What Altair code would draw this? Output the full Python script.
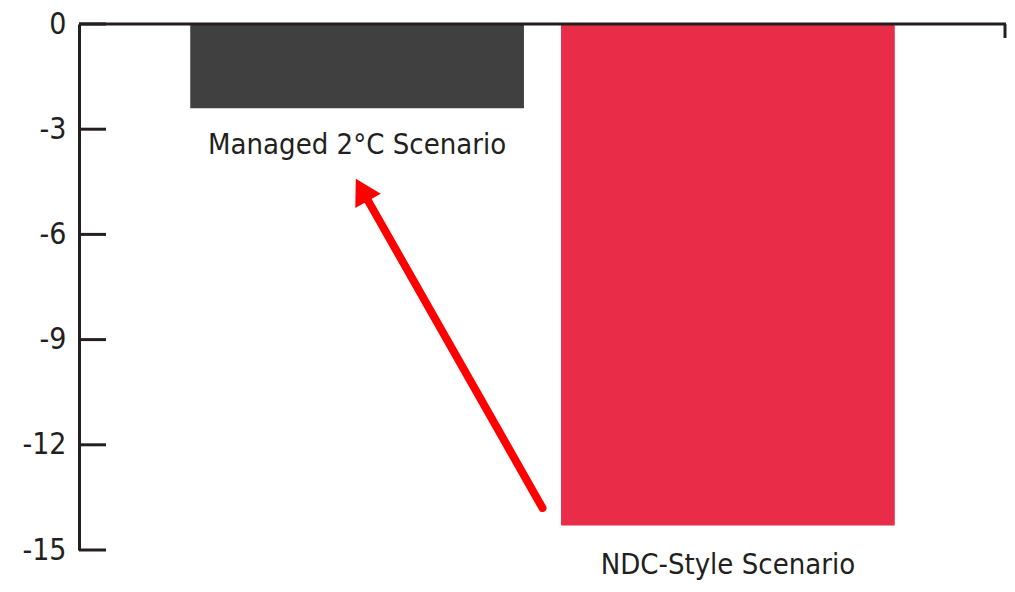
import altair as alt
import pandas as pd

# Data
categories = ["Managed 2°C Scenario", "NDC-Style Scenario"]
values = [-2.4, -14.3]
bar_colors = ["#404040", "#E92C48"]
label_y = [-3.45, -15.42]
tick_values = [0, -3, -6, -9, -12, -15]

# arrow annotation (x in units of band steps across plot, y in data units)
arrow_x = [1.25, 0.763]
arrow_y = [-13.8, -4.73]
head_x = [0.763]
head_y = [-4.73]

W, H = 927, 526
INK = "#231F20"
FONT = "DejaVu Sans Condensed"

bars_df = pd.DataFrame({"cat": categories, "val": values, "color": bar_colors, "ly": label_y})
ticks_df = pd.DataFrame({"t": tick_values})
arrow_df = pd.DataFrame({"ax": arrow_x, "ay": arrow_y, "o": [0, 1]})
head_df = pd.DataFrame({"hx": head_x, "hy": head_y})

yscale = alt.Scale(domain=[-15, 0], nice=False, zero=False)
xband = alt.Scale(domain=categories, paddingInner=0.1, paddingOuter=0.3)

bars = alt.Chart(bars_df).mark_bar().encode(
    x=alt.X("cat:N", scale=xband, axis=None, sort=categories),
    y=alt.Y("val:Q", scale=yscale,
            axis=alt.Axis(values=tick_values, ticks=False, grid=False, domain=True,
                          domainColor=INK, domainWidth=3, labelFont=FONT, labelFontSize=30,
                          labelColor=INK, labelPadding=13, title=None,
                          labelExpr="'' + datum.value")),
    y2=alt.datum(0),
    color=alt.Color("color:N", scale=None),
)

labels = alt.Chart(bars_df).mark_text(font=FONT, fontSize=29, color=INK, baseline="middle").encode(
    x=alt.X("cat:N", scale=xband, axis=None, sort=categories),
    y=alt.Y("ly:Q", scale=yscale),
    text="cat:N",
)

tick_rules = alt.Chart(ticks_df).mark_rule(color=INK, strokeWidth=3).encode(
    y=alt.Y("t:Q", scale=yscale),
    x=alt.value(0),
    x2=alt.value(27),
)

top_line = alt.Chart(pd.DataFrame({"t": [0]})).mark_rule(color=INK, strokeWidth=3).encode(
    y=alt.Y("t:Q", scale=yscale),
    x=alt.value(0),
    x2=alt.value(W),
)

right_tick = alt.Chart(pd.DataFrame({"t": [0]})).mark_rule(color=INK, strokeWidth=3).encode(
    y=alt.Y("t:Q", scale=yscale),
    y2=alt.value(14),
    x=alt.value(W - 1),
)

xq = alt.Scale(domain=[0, 2.5], nice=False, zero=False)
arrow_line = alt.Chart(arrow_df).mark_line(color="#FF0000", strokeWidth=8, strokeCap="round").encode(
    x=alt.X("ax:Q", scale=xq, axis=None),
    y=alt.Y("ay:Q", scale=yscale),
    order="o:Q",
)
arrow_head = alt.Chart(head_df).mark_point(shape="triangle-up", filled=True, color="#FF0000",
                                           size=850, angle=331, opacity=1).encode(
    x=alt.X("hx:Q", scale=xq, axis=None),
    y=alt.Y("hy:Q", scale=yscale),
)

base = alt.layer(bars, labels, tick_rules, top_line, right_tick)
arrow = alt.layer(arrow_line, arrow_head)

chart = alt.layer(base, arrow).resolve_scale(x="independent").properties(
    width=W, height=H,
    autosize=alt.AutoSizeParams(type="none"),
    padding={"left": 71, "top": 16, "right": 1, "bottom": 34},
).configure_view(stroke=None)

chart.save("out.html", embed_options={"renderer": "svg", "actions": False})
